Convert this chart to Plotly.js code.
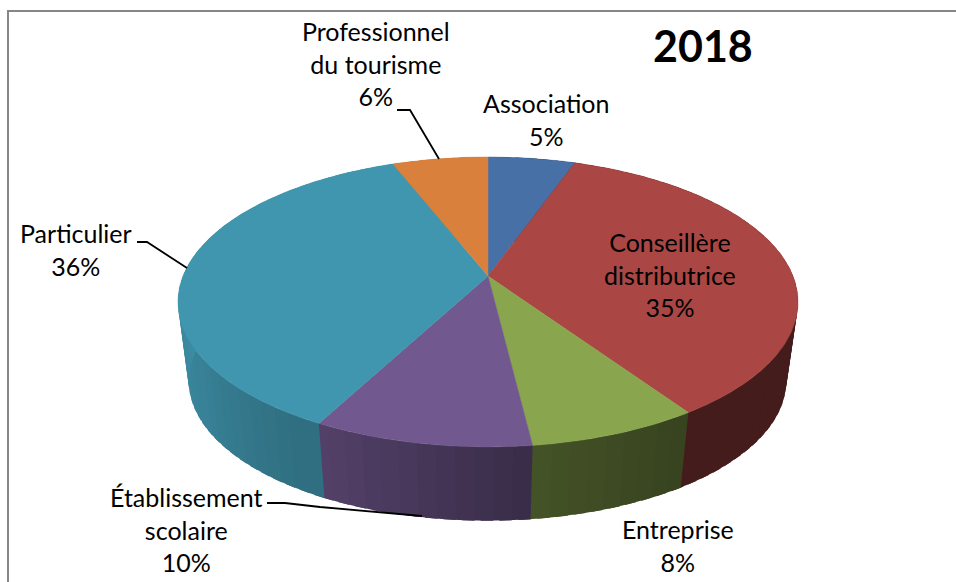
<!DOCTYPE html>
<html>
<head>
<meta charset="utf-8">
<style>html,body{margin:0;padding:0;background:#fff}</style>
<script src="https://cdn.plot.ly/plotly-3.0.1.min.js"></script>
</head>
<body>
<div id="chart" style="width:956px;height:582px"></div>
<script>
// Data, clockwise from 12 o'clock
var categories = ["Association", "Conseillère<br>distributrice", "Entreprise", "Établissement<br>scolaire", "Particulier", "Professionnel<br>du tourisme"];
var shares = [5.4, 35.15, 7.53, 9.65, 36.35, 5.92];
var chartTitle = "2018";

// Styling
var topColors = [[70,112,166],[170,70,67],[137,165,78],[113,88,143],[65,150,175],[216,128,60]];
var labelCenters = [[546,119],[670,274],[678,545],[186,529],[76,249],[376,63]];
var leaders = [
  {x:[397,410,439], y:[110,110,159]},
  {x:[137,147,187], y:[242,242,268]},
  {x:[267,285,320,422], y:[503,503,507,516]}
];

// Perspective disc: unit-circle point -> page-sized axis coordinates
var FONT = "Lato, Carlito, sans-serif";
var K = -0.179;
var topDisc = {cx:488, cy:276, R:305, B:140.3};
var baseDisc = {cx:487.5, cy:356, R:294, B:135.3};
function project(d, deg) {
  var t = deg * Math.PI / 180, u = Math.sin(t), v = -Math.cos(t), w = 1 + K * v;
  return [d.cx + d.R * u / w, d.cy + d.B * v / w];
}
// brightness of the wall, by clock angle
var shadeStops = [[0,.40],[146,.40],[173,.50],[208,.74],[212,.74],[240,.86],[270,.93],[360,.93]];
function shade(deg) {
  for (var i = 1; i < shadeStops.length; i++) {
    if (deg <= shadeStops[i][0]) {
      var a = shadeStops[i-1], b = shadeStops[i];
      return a[1] + (b[1]-a[1]) * (deg-a[0]) / (b[0]-a[0]);
    }
  }
  return .93;
}
function rgb(c, m) {
  return "rgb(" + c.map(function(n){return Math.round(n*m);}).join(",") + ")";
}

var total = shares.reduce(function(a,b){return a+b;},0);
var traces = [], starts = [], cum = 0;
shares.forEach(function(s){ starts.push(cum/total*360); cum += s; });

// walls: each band runs under the next one, so no seam shows
var STEP = 3;
shares.forEach(function(s,i){
  var a0 = starts[i], a1 = a0 + s/total*360;
  for (var a = a0; a < a1; a += STEP) {
    var b = Math.min(a+STEP, a1), e = b + 2;
    var p = [project(topDisc,a), project(topDisc,b), project(topDisc,e),
             project(baseDisc,e), project(baseDisc,b), project(baseDisc,a), project(topDisc,a)];
    var col = rgb(topColors[i], shade((a+b)/2));
    traces.push({type:"scatter", mode:"lines", fill:"toself", fillcolor:col,
      x:p.map(function(q){return q[0];}), y:p.map(function(q){return q[1];}),
      line:{width:0}, hoverinfo:"skip", showlegend:false});
  }
});
// top faces
shares.forEach(function(s,i){
  var a0 = starts[i], a1 = a0 + s/total*360, xs=[topDisc.cx], ys=[topDisc.cy];
  for (var a = a0; ; a += 1) {
    var d = Math.min(a,a1), q = project(topDisc,d);
    xs.push(q[0]); ys.push(q[1]);
    if (a >= a1) break;
  }
  xs.push(topDisc.cx); ys.push(topDisc.cy);
  var col = rgb(topColors[i],1);
  traces.push({type:"scatter", mode:"lines", fill:"toself", fillcolor:col, x:xs, y:ys,
    line:{color:col,width:0.5}, name:categories[i].replace("<br>"," "), hoverinfo:"name", showlegend:false});
});
// leader lines
leaders.forEach(function(l){
  traces.push({type:"scatter", mode:"lines", x:l.x, y:l.y, line:{color:"#000",width:1.8}, hoverinfo:"skip", showlegend:false});
});

var annotations = categories.map(function(c,i){
  return {x:labelCenters[i][0], y:labelCenters[i][1], xref:"x", yref:"y", text:c+"<br>"+Math.round(shares[i])+"%",
    showarrow:false, xanchor:"center", yanchor:"middle", align:"center", font:{family:FONT,size:25,color:"#000"}};
});
annotations.push({x:703, y:45, xref:"x", yref:"y", text:"<b>"+chartTitle+"</b>", showarrow:false,
  xanchor:"center", yanchor:"middle", font:{family:FONT,size:43,color:"#000"}});

var layout = {
  width:956, height:582, margin:{l:0,r:0,t:0,b:0},
  paper_bgcolor:"#fff", plot_bgcolor:"#fff", showlegend:false,
  xaxis:{range:[0,956], visible:false, fixedrange:true},
  yaxis:{range:[582,0], visible:false, fixedrange:true},
  annotations:annotations,
  shapes:[
    {type:"line", xref:"x", yref:"y", x0:8, x1:8, y0:10, y1:582, line:{color:"#868686",width:2}},
    {type:"line", xref:"x", yref:"y", x0:7, x1:956, y0:11, y1:11, line:{color:"#868686",width:2}}
  ]
};
Plotly.newPlot("chart", traces, layout, {displayModeBar:false, staticPlot:true});
</script>
</body>
</html>
